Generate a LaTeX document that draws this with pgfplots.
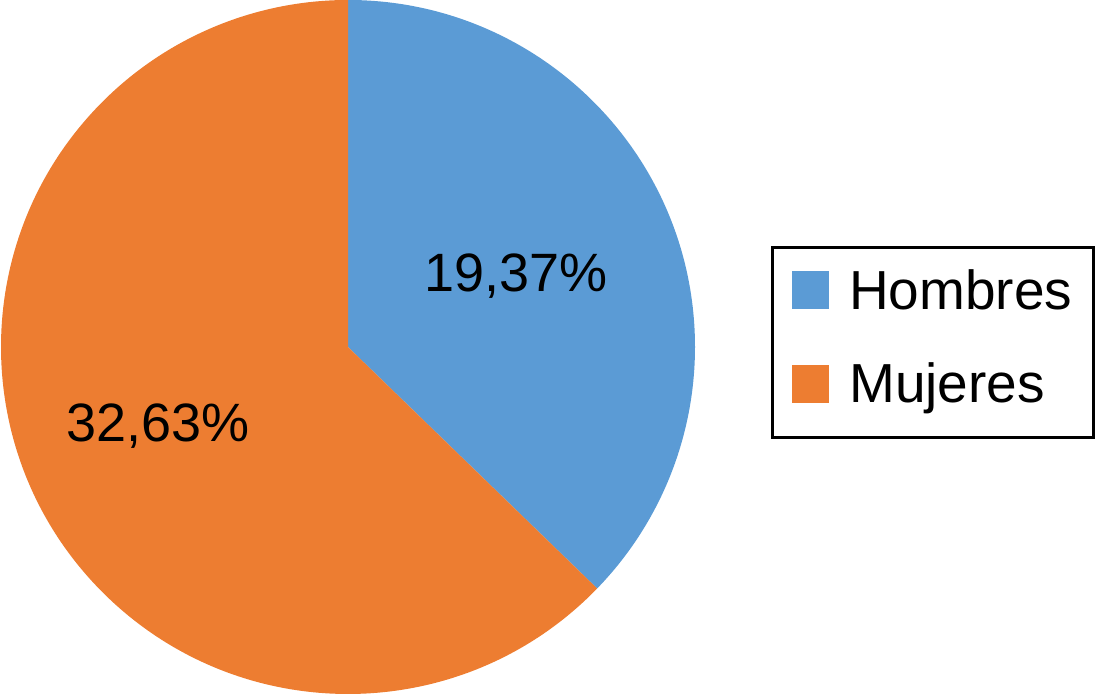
\documentclass[border=0pt]{standalone}
\usepackage{pgfplots}
\pgfplotsset{compat=1.18}
\usepackage{pgfplotstable}
\usepackage{fontspec}
\setmainfont{Liberation Sans}
\definecolor{hblue}{HTML}{5B9BD5}
\definecolor{morange}{HTML}{ED7D31}
\pgfplotstableread{
label value
Hombres 19.37
Mujeres 32.63
}\piedata
\begin{document}
\begin{tikzpicture}
\pgfplotstablegetelem{0}{value}\of\piedata\let\vA\pgfplotsretval
\pgfplotstablegetelem{1}{value}\of\piedata\let\vB\pgfplotsretval
\pgfmathsetmacro{\angA}{360*\vA/(\vA+\vB)}
\pgfmathsetmacro{\endA}{90-\angA}
\begin{axis}[
  hide axis, scale only axis,
  width=1096pt, height=695pt,
  xmin=0, xmax=1096, ymin=0, ymax=695,
  clip=false, anchor=south west, at={(0,0)},
]
\fill[hblue] (axis cs:348,348) -- ++(90:347pt) arc[start angle=90, end angle=\endA, radius=347pt] -- cycle;
\fill[morange] (axis cs:348,348) -- ++(\endA:347pt) arc[start angle=\endA, end angle=-270, radius=347pt] -- cycle;
\node[font=\fontsize{54}{60}\selectfont, anchor=center] at (axis cs:516,419) {19,37\%};
\node[font=\fontsize{54}{60}\selectfont, anchor=center] at (axis cs:158,269) {32,63\%};
\draw[line width=3pt] (axis cs:772,447) rectangle (axis cs:1093,257);
\fill[hblue] (axis cs:792,424) rectangle (axis cs:829,386);
\fill[morange] (axis cs:792,330) rectangle (axis cs:829,292);
\node[font=\fontsize{55}{60}\selectfont, anchor=base west, inner sep=0pt] at (axis cs:849,385) {Hombres};
\node[font=\fontsize{55}{60}\selectfont, anchor=base west, inner sep=0pt] at (axis cs:849,292) {Mujeres};
\end{axis}
\pgfresetboundingbox
\path[use as bounding box] (0,0) rectangle (1096pt,695pt);
\end{tikzpicture}
\end{document}
